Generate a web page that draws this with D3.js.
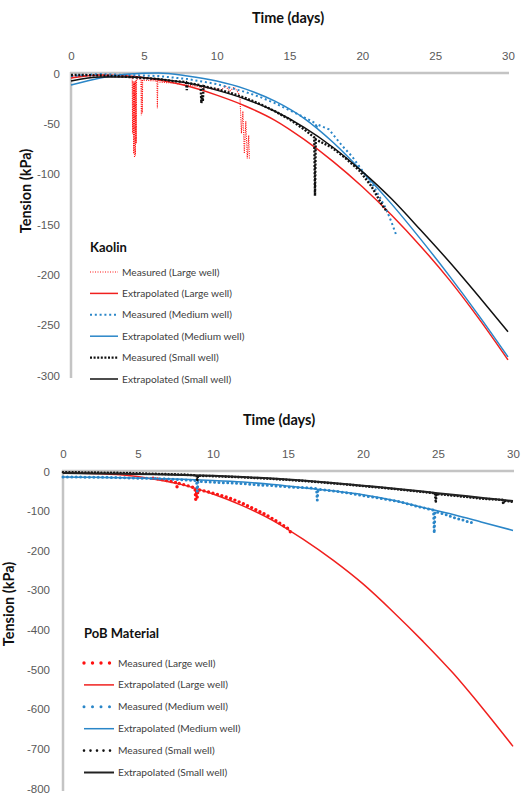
<!doctype html>
<html>
<head>
<meta charset="utf-8">
<script src="https://cdn.jsdelivr.net/npm/d3@7"></script>
<style>
  body { margin: 0; background: #fff; }
  svg { display: block; font-family: Lato, "Open Sans", sans-serif; }
  .axis .tick text { fill: #595959; font-size: 11.5px; }
  .axis path.domain { stroke: #c4c4c4; stroke-width: 2.5px; }
  .title { font-weight: 700; font-size: 14.5px; fill: #111; }
  .panel-name { font-weight: 700; font-size: 13px; fill: #111; }
  .legend text { font-size: 10.2px; fill: #404040; }
</style>
</head>
<body>
<svg id="chart" width="524" height="794"></svg>
<script>

// x ticks are shared by both panels
const xTicks = [0, 5, 10, 15, 20, 25, 30]
const kaolinYTicks = [0, -50, -100, -150, -200, -250, -300]
const pobYTicks = [0, -100, -200, -300, -400, -500, -600, -700, -800]

// days used by the extrapolated curves
const extDays = [0, 2, 4, 6, 8, 10, 12, 14, 16, 18, 20, 22, 24, 26, 28, 30]

// ---- Kaolin ----
const kaolinExtLarge  = [-5, -2, -3, -7, -13, -22, -33, -47, -66, -88, -113, -141, -172, -206, -244, -285]
const kaolinExtMedium = [-12, -5, -1, 0, -3, -8, -16, -28, -45, -69, -98, -130, -165, -202, -241, -282]
const kaolinExtSmall  = [-8, -4, -4, -6, -10, -17, -26, -38, -54, -74, -98, -125, -156, -188, -222, -257]

const kaolinMeasLarge = [
  [0, -3], [1, -2.5], [2, -2], [3, -3], [4, -4], [4.2, -5], [4.23, -60], [4.26, -8], [4.3, -80],
  [4.33, -10], [4.36, -84], [4.39, -8], [4.42, -82], [4.45, -7], [4.48, -70], [4.5, -6],
  [4.8, -6], [4.83, -42], [4.86, -7], [4.89, -40], [4.92, -7], [5.9, -8], [5.93, -35],
  [5.96, -9], [7, -10], [8, -12], [9, -14], [10, -16], [10.3, -17], [10.6, -13], [10.9, -18],
  [11.2, -14], [11.5, -20], [11.6, -24], [11.7, -60], [11.8, -38], [11.9, -80], [12.0, -48],
  [12.1, -85], [12.2, -62], [12.25, -86]
]
const kaolinMeasMedium = [
  [0, -3], [2, -1], [4, -2], [6, -3], [8, -6], [10, -11], [11, -15], [12, -19], [13, -24], [14, -30],
  [15, -37], [16, -44], [16.8, -50], [16.85, -55], [16.9, -51], [17.7, -56], [18.6, -72], [19.3, -83],
  [20, -97], [20.8, -113], [21.6, -134], [22.0, -148], [22.3, -160]
]
const kaolinMeasSmall = [
  [0, -2], [1, -2], [2, -2.5], [3, -3], [4, -4], [5, -5], [6, -6], [7, -8], [7.9, -9], [7.95, -17],
  [8.0, -10], [8.9, -12], [8.95, -30], [9.0, -22], [9.05, -28], [9.1, -13], [10, -16], [11, -20],
  [12, -25], [13, -31], [14, -38], [15, -46], [16, -56], [16.7, -64], [16.75, -122], [16.8, -66],
  [17.9, -74], [18.8, -84], [19.8, -97], [20.6, -112], [21.4, -132], [21.7, -138]
]

// ---- PoB Material ----
const pobExtLarge  = [-5, -6, -10, -20, -35, -58, -88, -125, -172, -225, -285, -355, -430, -510, -600, -695]
const pobExtMedium = [-15, -16, -17, -19, -21, -24, -28, -34, -42, -50, -60, -74, -92, -110, -130, -150]
const pobExtSmall  = [-5, -6, -7, -8, -10, -12, -15, -19, -24, -30, -37, -44, -52, -60, -68, -76]

const pobMeasLarge = [
  [6, -18], [6.5, -21], [7, -25], [7.5, -29], [7.6, -40], [7.7, -31], [8, -34], [8.5, -39],
  [8.8, -43], [8.85, -72], [8.9, -52], [8.95, -66], [9, -47], [9.5, -51], [10, -56], [10.5, -61],
  [11, -67], [11.5, -74], [12, -82], [12.5, -91], [13, -100], [13.5, -110], [14, -121],
  [14.5, -133], [15, -145], [15.2, -156]
]
const pobMeasMedium = [
  [0, -15], [1, -15], [2, -16], [3, -16], [4, -17], [5, -18], [6, -19], [7, -20], [8, -22],
  [8.9, -24], [8.95, -52], [9.0, -26], [10, -28], [11, -30], [12, -32], [13, -35], [14, -37],
  [15, -40], [16, -42], [16.9, -44], [16.95, -74], [17.0, -46], [18, -50], [19.1, -56], [20, -62],
  [21, -68], [22.5, -78], [23.5, -88], [24.7, -99], [24.75, -157], [24.8, -102], [25.5, -110],
  [26, -117], [26.5, -122], [27.1, -129], [27.4, -132]
]
const pobMeasSmall = [
  [0, -3], [2, -4], [4, -5], [6, -7], [8, -9], [8.9, -11], [8.95, -26], [9, -12], [10, -13],
  [12, -16], [14, -20], [16, -25], [18, -31], [20, -38], [22, -45], [24, -53], [24.8, -56],
  [24.85, -80], [24.9, -58], [26, -62], [28, -70], [29.3, -73], [29.35, -84], [29.4, -75], [30, -78]
]

const legendLabels = ["Measured (Large well)", "Extrapolated (Large well)",
                      "Measured (Medium well)", "Extrapolated (Medium well)",
                      "Measured (Small well)", "Extrapolated (Small well)"]

const RED = "#f0201e", BLUE = "#2a86c8", BLACK = "#111"

const svg = d3.select("#chart")

function drawPanel(o) {
  const x = d3.scaleLinear().domain([0, 30]).range([o.x0, o.x1])
  const y = d3.scaleLinear().domain([o.yMin, 0]).range([o.yBottom, o.yTop])
  const g = svg.append("g")

  g.append("text").attr("class", "title")
    .attr("x", o.titleX).attr("y", o.titleY)
    .attr("text-anchor", "middle").text("Time (days)")

  g.append("text").attr("class", "title")
    .attr("transform", "translate(" + o.yTitleX + "," + o.yTitleY + ") rotate(-90)")
    .attr("text-anchor", "middle").text("Tension (kPa)")

  g.append("g").attr("class", "axis")
    .attr("transform", "translate(" + o.x0 + ",0)")
    .call(d3.axisLeft(y).tickValues(o.yTicks).tickSize(0).tickPadding(o.yPad).tickFormat(d => String(d)))
    .call(a => a.select(".domain").attr("d", "M0," + (o.yTop - 1) + "V" + (o.yBottom + 3)))
    .call(a => a.selectAll(".tick text").attr("dy", "0.35em"))

  g.append("g").attr("class", "axis")
    .attr("transform", "translate(0," + o.yTop + ")")
    .call(d3.axisTop(x).tickValues(xTicks).tickSize(0).tickPadding(o.xPad))
    .call(a => a.select(".domain").attr("d", "M" + (o.x0 - 1) + ",0H" + (o.x1 + 1)))

  const ext = d3.line().x((d, i) => x(extDays[i])).y(d => y(d)).curve(d3.curveMonotoneX)
  const meas = d3.line().x(d => x(d[0])).y(d => y(d[1]))

  const series = o.series
  series.forEach(s => {
    const p = g.append("path")
      .attr("fill", "none")
      .attr("stroke", s.color)
      .attr("stroke-width", s.width)
      .attr("d", s.ext ? ext(s.data) : meas(s.data))
    if (s.dash) p.attr("stroke-dasharray", s.dash)
    if (s.cap) p.attr("stroke-linecap", s.cap)
  })

  const leg = g.append("g").attr("class", "legend")
  g.append("text").attr("class", "panel-name")
    .attr("x", o.legX).attr("y", o.legNameY).attr("dy", "0.35em").text(o.name)

  legendLabels.forEach((lab, i) => {
    const s = series[i]
    const ly = o.legY0 + i * o.legStep
    const l = leg.append("line")
      .attr("x1", o.legX).attr("x2", o.legX + o.legLen)
      .attr("y1", ly).attr("y2", ly)
      .attr("stroke", s.color).attr("stroke-width", s.legWidth || s.width)
    if (s.legDash || s.dash) l.attr("stroke-dasharray", s.legDash || s.dash)
    if (s.cap) l.attr("stroke-linecap", s.cap)
    leg.append("text").attr("x", o.legX + o.legLen + 4).attr("y", ly).attr("dy", "0.35em").text(lab)
  })
}

// Kaolin panel
drawPanel({
  name: "Kaolin",
  x0: 71, x1: 508, yTop: 73, yBottom: 375, yMin: -300,
  yTicks: kaolinYTicks, yPad: 11, xPad: 13,
  titleX: 288, titleY: 23, yTitleX: 31, yTitleY: 191,
  legX: 90, legLen: 28, legNameY: 247, legY0: 272, legStep: 21.4,
  series: [
    { data: kaolinMeasLarge, color: "#ff1010", width: 1.1, dash: "1,1.2", legDash: "1,1.5", legWidth: 1 },
    { data: kaolinExtLarge, ext: true, color: RED, width: 1.5 },
    { data: kaolinMeasMedium, color: BLUE, width: 2, dash: "2,2.8" },
    { data: kaolinExtMedium, ext: true, color: BLUE, width: 1.5 },
    { data: kaolinMeasSmall, color: BLACK, width: 2.4, dash: "2,1.6" },
    { data: kaolinExtSmall, ext: true, color: BLACK, width: 1.5 }
  ]
})

// PoB Material panel
drawPanel({
  name: "PoB Material",
  x0: 63, x1: 513, yTop: 471, yBottom: 788, yMin: -800,
  yTicks: pobYTicks, yPad: 13, xPad: 13,
  titleX: 279, titleY: 425, yTitleX: 14, yTitleY: 604,
  legX: 84, legLen: 30, legNameY: 633, legY0: 663, legStep: 21.9,
  series: [
    { data: pobMeasLarge, color: "#ff1010", width: 3.4, dash: "0,4.6", cap: "round", legDash: "0,8.5" },
    { data: pobExtLarge, ext: true, color: RED, width: 1.5 },
    { data: pobMeasMedium, color: BLUE, width: 3, dash: "0,4.4", cap: "round", legDash: "0,8.5" },
    { data: pobExtMedium, ext: true, color: BLUE, width: 1.5 },
    { data: pobMeasSmall, color: BLACK, width: 2.6, dash: "0,3.2", cap: "round", legDash: "0,6.5" },
    { data: pobExtSmall, ext: true, color: "#222", width: 2 }
  ]
})

</script>
</body>
</html>
